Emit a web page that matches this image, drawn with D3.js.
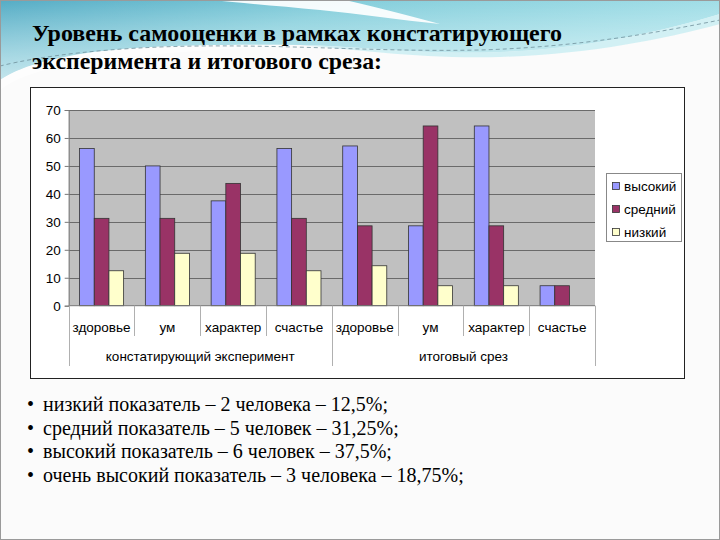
<!DOCTYPE html>
<html><head><meta charset="utf-8">
<script src="https://cdn.jsdelivr.net/npm/d3@7"></script>
<style>html,body{margin:0;padding:0;background:#fff;}svg{display:block;}</style>
</head><body>
<script>
// ---- data ----
const categories = ["здоровье","ум","характер","счастье","здоровье","ум","характер","счастье"];
const groups = ["констатирующий эксперимент","итоговый срез"];
const groupSize = [4, 4];
const seriesNames = ["высокий","средний","низкий"];
const high = [56.25, 50, 37.5, 56.25, 57.14, 28.57, 64.29, 7.14];
const mid  = [31.25, 31.25, 43.75, 31.25, 28.57, 64.29, 28.57, 7.14];
const low  = [12.5, 18.75, 18.75, 12.5, 14.29, 7.14, 7.14, 0];
const yTicks = [0, 10, 20, 30, 40, 50, 60, 70];
const titleLines = ["Уровень самооценки в рамках констатирующего", "эксперимента и итогового среза:"];
const bullets = [
  "низкий показатель – 2 человека – 12,5%;",
  "средний показатель – 5 человек – 31,25%;",
  "высокий показатель – 6 человек – 37,5%;",
  "очень высокий показатель – 3 человека – 18,75%;"
];
const seriesValues = [high, mid, low];
const colors = ["#9999ff", "#993366", "#ffffcc"];

const W = 720, H = 540;
const svg = d3.select("body").append("svg").attr("width", W).attr("height", H);

// ---- slide background ----
const defs = svg.append("defs");
const g1 = defs.append("linearGradient").attr("id","bgL").attr("x1","0").attr("y1","0").attr("x2","1").attr("y2","0.4");
g1.append("stop").attr("offset","0").attr("stop-color","#55acc5");
g1.append("stop").attr("offset","0.45").attr("stop-color","#86cfdc");
g1.append("stop").attr("offset","1").attr("stop-color","#a9e2ea");
const g2 = defs.append("linearGradient").attr("id","fade").attr("x1","0").attr("y1","0").attr("x2","0").attr("y2","1");
g2.append("stop").attr("offset","0").attr("stop-color","#ffffff").attr("stop-opacity",0);
g2.append("stop").attr("offset","1").attr("stop-color","#ffffff").attr("stop-opacity",0.55);

svg.append("rect").attr("width", W).attr("height", H).attr("fill", "#fbfbfb");
const topWave = "M0,0 L720,0 L720,14 C660,32 590,48 500,52 C420,55 360,46 300,45 C200,44 110,46 60,58 C30,64 12,72 0,80 Z";
svg.append("path").attr("fill","url(#bgL)").attr("d", topWave);
svg.append("path").attr("fill","url(#fade)").attr("d", topWave);
// white swoosh near the top
svg.append("path").attr("fill","#ffffff").attr("opacity",0.92)
  .attr("d","M212,0 L345,0 C380,8 410,16 440,24 C400,20 360,14 320,10 C280,6 240,3 212,0 Z");
// light band on the lower left
svg.append("path").attr("fill","#ffffff").attr("opacity",0.6)
  .attr("d","M0,80 C12,72 30,64 60,58 C110,46 200,44 300,45 C200,50 120,56 70,64 C40,70 15,78 0,90 Z");
// light stripe along the right wave edge
svg.append("path").attr("fill","#c8eef2").attr("opacity",0.8)
  .attr("d","M300,45 C360,46 420,55 500,52 C590,48 660,32 720,14 L720,24 C660,40 590,54 500,57 C420,59 360,50 300,45 Z");
// dashed lines
svg.append("path").attr("fill","none").attr("stroke","#6f8f9a").attr("stroke-width",0.8).attr("stroke-dasharray","4,3")
  .attr("d","M0,66 C40,56 110,47 200,46 C300,45 380,52 480,50 C580,47 660,32 720,20");
svg.append("rect").attr("x",0.5).attr("y",0.5).attr("width",W-1).attr("height",H-1)
  .attr("fill","none").attr("stroke","#9a9a9a");

// ---- title ----
const serif = "'Liberation Serif','Times New Roman',Times,serif";
const titleG = svg.append("g").style("font-family", serif)
  .attr("font-weight","bold").attr("font-size",24).attr("fill","#000");
titleG.append("text").attr("x",32).attr("y",41).attr("textLength",530).attr("lengthAdjust","spacingAndGlyphs").text(titleLines[0]);
titleG.append("text").attr("x",32).attr("y",69).attr("textLength",350).attr("lengthAdjust","spacingAndGlyphs").text(titleLines[1]);

// ---- chart frame ----
svg.append("rect").attr("x",30.5).attr("y",87.5).attr("width",654).attr("height",291)
  .attr("fill","#fff").attr("stroke","#222").attr("stroke-width",1);

const plotL = 68.7, plotR = 595, plotT = 110, plotB = 305.7;
const x0 = d3.scaleBand().domain(d3.range(categories.length)).range([plotL, plotR]).paddingInner(0).paddingOuter(0);
const x1 = d3.scaleBand().domain(d3.range(seriesNames.length)).range([0, x0.bandwidth()]).paddingInner(0).paddingOuter(0.74);
const y = d3.scaleLinear().domain([0, 70]).range([plotB, plotT]);

svg.append("rect").attr("x",plotL).attr("y",plotT).attr("width",plotR-plotL).attr("height",plotB-plotT).attr("fill","#c0c0c0");

// gridlines
svg.append("g").selectAll("line").data(yTicks.filter(d=>d>0)).join("line")
  .attr("x1",plotL).attr("x2",plotR).attr("y1",d=>Math.round(y(d))+0.5).attr("y2",d=>Math.round(y(d))+0.5)
  .attr("stroke","#6a6a6a").attr("stroke-width",1);

const sans = "'Liberation Sans',Arial,sans-serif";
// y axis
const yAxis = svg.append("g").attr("transform",`translate(${plotL},0)`)
  .call(d3.axisLeft(y).tickValues(yTicks).tickSize(4).tickPadding(4));
yAxis.select(".domain").attr("stroke","#777");
yAxis.selectAll(".tick line").attr("stroke","#777");
yAxis.selectAll("text").style("font-family",sans).attr("font-size",13.5).attr("fill","#000");

// bars
const barG = svg.append("g");
seriesValues.forEach((vals, si) => {
  barG.append("g").selectAll("rect").data(vals.map((v,i)=>({v,i})).filter(d => d.v > 0)).join("rect")
    .attr("x", d => x0(d.i) + x1(si))
    .attr("y", d => y(d.v))
    .attr("width", x1.bandwidth())
    .attr("height", d => y(0) - y(d.v))
    .attr("fill", colors[si]).attr("stroke","#333").attr("stroke-width",0.8);
});

// x axis line
svg.append("line").attr("x1",plotL).attr("x2",plotR).attr("y1",plotB).attr("y2",plotB).attr("stroke","#777");

// category dividers
const divG = svg.append("g").attr("stroke","#b0b0b0").attr("stroke-width",1);
let boundaries = [0]; let acc = 0; groupSize.forEach(n => { acc += n; boundaries.push(acc); });
d3.range(categories.length + 1).forEach(i => {
  const xx = (i < categories.length ? x0(i) : plotR);
  const long = boundaries.includes(i);
  divG.append("line").attr("x1",Math.round(xx)+0.5).attr("x2",Math.round(xx)+0.5)
    .attr("y1",plotB).attr("y2", long ? 366 : 336);
});
svg.append("g").selectAll("text").data(categories).join("text")
  .attr("x",(d,i)=>x0(i)+x0.bandwidth()/2).attr("y",332)
  .attr("text-anchor","middle").style("font-family",sans).attr("font-size",13.5).attr("fill","#000")
  .text(d=>d);
svg.append("g").selectAll("text").data(groups).join("text")
  .attr("x",(d,gi)=>{ const a = x0(boundaries[gi]); const b = boundaries[gi+1] < categories.length ? x0(boundaries[gi+1]) : plotR; return (a+b)/2; })
  .attr("y",361).attr("text-anchor","middle").style("font-family",sans).attr("font-size",13.5).attr("fill","#000")
  .text(d=>d);

// legend
const lg = svg.append("g");
lg.append("rect").attr("x",606.5).attr("y",173.5).attr("width",75).attr("height",68).attr("fill","#fff").attr("stroke","#888");
seriesNames.forEach((n,i)=>{
  const cy = 186 + i*23;
  lg.append("rect").attr("x",612.5).attr("y",cy-3.5).attr("width",7).attr("height",7).attr("fill",colors[i]).attr("stroke","#333").attr("stroke-width",0.8);
  lg.append("text").attr("x",624).attr("y",cy+4.5).style("font-family",sans).attr("font-size",13.5).attr("fill","#000").text(n);
});

// bullets
const bG = svg.append("g").style("font-family",serif).attr("font-size",20).attr("fill","#000");
bullets.forEach((t,i)=>{
  const by = 411 + i*23.7;
  bG.append("text").attr("x",27).attr("y",by).attr("font-size",20).text("•");
  bG.append("text").attr("x",43).attr("y",by).text(t);
});
</script>
</body></html>
